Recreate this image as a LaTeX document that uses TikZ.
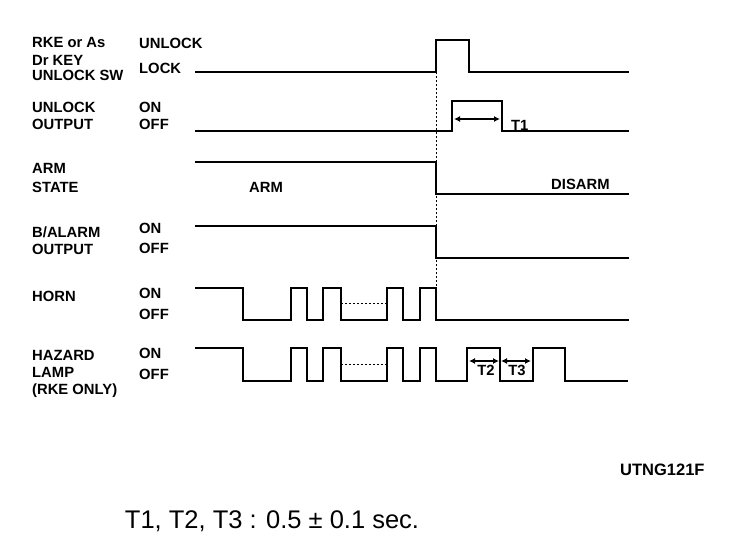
\documentclass[tikz,border=0pt]{standalone}
\usepackage{fontspec}
\setmainfont{Liberation Sans}
\usetikzlibrary{arrows.meta}
\begin{document}
\begin{tikzpicture}[x=1pt,y=-1pt,
  wave/.style={line width=2.8pt, line join=miter},
  guide/.style={line width=1pt, dash pattern=on 2pt off 2pt},
  meas/.style={line width=1.8pt, {Latex[length=6pt,width=6pt]}-{Latex[length=6pt,width=6pt]}},
  lbl/.style={anchor=west, inner sep=0pt, text height=10.5pt, text depth=0pt,
              font=\fontsize{14.8}{17}\selectfont\bfseries},
  clbl/.style={lbl, anchor=center}]
\useasboundingbox (0,0) rectangle (736,552);

% labels, left column
\node[lbl] (l1a) at (32,42.5) {RKE or As};
\node[lbl] (l1b) at (32,60) {Dr KEY};
\node[lbl] (l1c) at (32,75) {UNLOCK SW};
\node[lbl] (s1a) at (139,43.5) {UNLOCK};
\node[lbl] (s1b) at (139,68) {LOCK};

\node[lbl] (l2a) at (32,107.5) {UNLOCK};
\node[lbl] (l2b) at (32,124) {OUTPUT};
\node[lbl] (s2a) at (139,107) {ON};
\node[lbl] (s2b) at (139,124.5) {OFF};

\node[lbl] (l3a) at (32,168) {ARM};
\node[lbl] (l3b) at (32,187) {STATE};

\node[lbl] (l4a) at (32,232) {B/ALARM};
\node[lbl] (l4b) at (32,249) {OUTPUT};
\node[lbl] (s4a) at (139,228) {ON};
\node[lbl] (s4b) at (139,248) {OFF};

\node[lbl] (l5a) at (32,296) {HORN};
\node[lbl] (s5a) at (139,293) {ON};
\node[lbl] (s5b) at (139,314) {OFF};

\node[lbl] (l6a) at (32,355) {HAZARD};
\node[lbl] (l6b) at (32,372) {LAMP};
\node[lbl] (l6c) at (32,389) {(RKE ONLY)};
\node[lbl] (s6a) at (139,353) {ON};
\node[lbl] (s6b) at (139,374) {OFF};

% state labels
\node[lbl] (arm) at (249,187) {ARM};
\node[lbl] (disarm) at (551,184) {DISARM};

% guide line
\draw[guide] (436,40) -- (436,288);

% RKE switch
\draw[wave] (195,72) -- (436,72) -- (436,40) -- (469,40) -- (469,72) -- (629,72);
% unlock output
\draw[wave] (195,131) -- (452,131) -- (452,101) -- (502,101) -- (502,131) -- (629,131);
\coordinate (t1a) at (454,119);
\coordinate (t1b) at (500,119);
\draw[meas] (t1a) -- (t1b);
\node[lbl] (t1) at (511,125) {T1};
% arm state
\draw[wave] (195,162) -- (436,162) -- (436,194) -- (629,194);
% b/alarm
\draw[wave] (195,226) -- (436,226) -- (436,258) -- (629,258);
% horn
\draw[wave] (195,288) -- (243,288) -- (243,320) -- (291,320) -- (291,288) -- (307,288)
  -- (307,320) -- (323,320) -- (323,288) -- (341,288) -- (341,320) -- (387,320)
  -- (387,288) -- (403,288) -- (403,320) -- (420,320) -- (420,288) -- (436,288)
  -- (436,320) -- (629,320);
\draw[guide] (341,303) -- (387,303);
% hazard
\draw[wave] (195,348) -- (243,348) -- (243,381) -- (291,381) -- (291,348) -- (307,348)
  -- (307,381) -- (323,381) -- (323,348) -- (341,348) -- (341,381) -- (387,381)
  -- (387,348) -- (403,348) -- (403,381) -- (420,381) -- (420,348) -- (436,348)
  -- (436,381) -- (467,381) -- (467,348) -- (500,348) -- (500,381) -- (533,381)
  -- (533,348) -- (565,348) -- (565,381) -- (628,381);
\draw[guide] (341,364) -- (387,364);
\coordinate (t2a) at (469,361);
\coordinate (t2b) at (499,361);
\coordinate (t3a) at (501,361);
\coordinate (t3b) at (531,361);
\draw[meas] (t2a) -- (t2b);
\draw[meas] (t3a) -- (t3b);
\node[clbl] (t2) at (486,370) {T2};
\node[clbl] (t3) at (517,370) {T3};

% footer
\node[lbl, font=\fontsize{16.5}{19}\selectfont\bfseries] (code) at (620,470) {UTNG121F};
\node[anchor=center, inner sep=0pt, font=\fontsize{25.5}{30}\selectfont] (note) at (272,521)
  {T1, T2, T3 : 0.5 ± 0.1 sec.};
\end{tikzpicture}
\end{document}
